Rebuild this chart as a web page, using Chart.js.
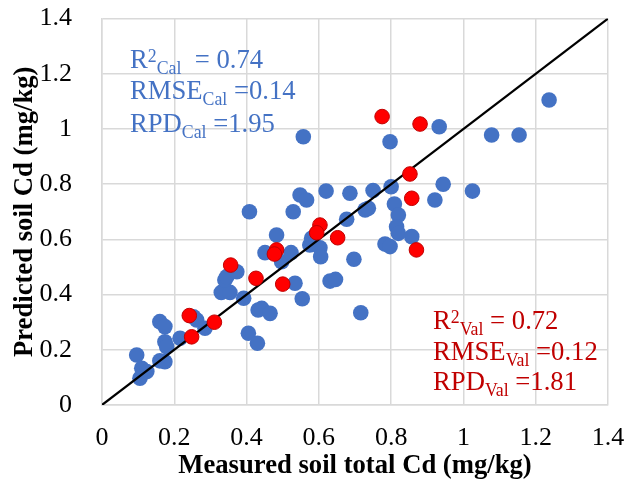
<!DOCTYPE html>
<html>
<head>
<meta charset="utf-8">
<script src="https://cdn.jsdelivr.net/npm/chart.js@4/dist/chart.umd.min.js"></script>
<style>
  html, body { margin: 0; padding: 0; background: #ffffff; }
  canvas { display: block; }
</style>
</head>
<body>
<canvas id="c" width="625" height="482"></canvas>
<script>
// ---- Data ----
const calX = [0.096,0.110,0.124,0.105,0.160,0.174,0.174,0.179,0.160,0.174,0.216,0.262,0.285,0.253,0.330,0.354,0.392,0.405,0.430,0.432,0.442,0.465,0.554,0.340,0.345,0.373,0.408,0.451,0.483,0.497,0.523,0.529,0.534,0.548,0.566,0.580,0.575,0.603,0.605,0.620,0.686,0.750,0.800,0.809,0.820,0.728,0.737,0.677,0.815,0.820,0.857,0.783,0.797,0.697,0.631,0.646,0.716,0.797,0.557,0.933,0.944,0.921,1.237,1.078,1.154,1.025];
const calY = [0.181,0.133,0.121,0.097,0.160,0.157,0.229,0.211,0.302,0.284,0.242,0.308,0.278,0.320,0.408,0.408,0.387,0.260,0.224,0.344,0.350,0.332,0.385,0.453,0.465,0.483,0.700,0.552,0.616,0.519,0.552,0.700,0.441,0.761,0.743,0.604,0.580,0.570,0.537,0.775,0.767,0.777,0.791,0.728,0.688,0.707,0.713,0.673,0.646,0.622,0.610,0.583,0.574,0.528,0.449,0.455,0.334,0.954,0.972,1.008,0.800,0.743,1.105,0.978,0.978,0.775];

const valX = [0.775,0.880,0.852,0.857,0.870,0.652,0.603,0.594,0.483,0.477,0.356,0.426,0.500,0.2415,0.311,0.248];
const valY = [1.045,1.018,0.837,0.749,0.562,0.606,0.652,0.624,0.562,0.547,0.507,0.459,0.438,0.324,0.300,0.247];

const lineX = [0, 1.4];
const lineY = [0, 1.4];

const tickVals = [0, 0.2, 0.4, 0.6, 0.8, 1.0, 1.2, 1.4];
const tickLabels = ['0', '0.2', '0.4', '0.6', '0.8', '1', '1.2', '1.4'];

const xTitle = 'Measured soil total Cd (mg/kg)';
const yTitle = 'Predicted soil Cd (mg/kg)';

// annotation text: segments (main / sup / sub)
const calText = [
  [['R','n'],['2','sup'],['Cal','sub'],['  = 0.74','n']],
  [['RMSE','n'],['Cal','sub'],[' =0.14','n']],
  [['RPD','n'],['Cal','sub'],[' =1.95','n']]
];
const valText = [
  [['R','n'],['2','sup'],['Val','sub'],[' = 0.72','n']],
  [['RMSE','n'],['Val','sub'],[' =0.12','n']],
  [['RPD','n'],['Val','sub'],[' =1.81','n']]
];
const calAnchor = { x: 0.0775, y: [1.22, 1.108, 0.988] };
const valAnchor = { x: 0.916, y: [0.274, 0.163, 0.054] };

// ---- Build ----
const FONT = "'Liberation Serif', 'Times New Roman', serif";
const calPts = calX.map((x, i) => ({ x, y: calY[i] }));
const valPts = valX.map((x, i) => ({ x, y: valY[i] }));
const linePts = lineX.map((x, i) => ({ x, y: lineY[i] }));

const annotationPlugin = {
  id: 'statsText',
  afterDatasetsDraw(chart) {
    const { ctx, scales } = chart;
    const draw = (lines, anchor, color) => {
      ctx.save();
      ctx.fillStyle = color;
      ctx.textBaseline = 'alphabetic';
      ctx.textAlign = 'left';
      lines.forEach((segs, li) => {
        let px = scales.x.getPixelForValue(anchor.x);
        const py = scales.y.getPixelForValue(anchor.y[li]);
        segs.forEach(([t, kind]) => {
          let size = 26.67, dy = 0;
          if (kind === 'sup') { size = 17.8; dy = -6; }
          if (kind === 'sub') { size = 17.8; dy = 5.5; }
          ctx.font = size + 'px ' + FONT;
          ctx.fillText(t, px, py + dy);
          px += ctx.measureText(t).width;
        });
      });
      ctx.restore();
    };
    draw(calText, calAnchor, '#4472C4');
    draw(valText, valAnchor, '#C00000');
  }
};

const gridCol = '#D9D9D9';
const axisCommon = {
  type: 'linear',
  min: 0,
  max: 1.4,
  afterBuildTicks: (s) => { s.ticks = tickVals.map(v => ({ value: v })); },
  grid: { color: gridCol, lineWidth: 1.5, drawTicks: false },
  border: { color: gridCol, width: 1.5 }
};

new Chart(document.getElementById('c'), {
  type: 'scatter',
  data: {
    datasets: [
      { label: 'Validation', data: valPts, backgroundColor: '#FF0000', borderColor: '#C00000', borderWidth: 1, pointRadius: 7.3, order: 0 },
      { label: '1:1', type: 'line', data: linePts, borderColor: '#000000', borderWidth: 2.2, pointRadius: 0, showLine: true, fill: false, order: 1 },
      { label: 'Calibration', data: calPts, backgroundColor: '#4472C4', borderColor: '#4472C4', borderWidth: 0, pointRadius: 7.8, order: 2 }
    ]
  },
  options: {
    responsive: false,
    animation: false,
    layout: { autoPadding: false, padding: { top: 18.6, right: 17, left: 0, bottom: 0 } },
    plugins: { legend: { display: false }, tooltip: { enabled: false } },
    scales: {
      x: Object.assign({}, axisCommon, {
        afterFit: (s) => { s.height = 77; s.paddingLeft = 0; s.paddingRight = 0; },
        ticks: { callback: (v, i) => tickLabels[i], color: '#000', font: { family: FONT, size: 26 }, padding: 18, maxRotation: 0, autoSkip: false },
        title: { display: true, text: xTitle, color: '#000', font: { family: FONT, size: 26.67, weight: 'bold' }, padding: { top: 0, bottom: 0 } }
      }),
      y: Object.assign({}, axisCommon, {
        afterFit: (s) => { s.width = 102; s.paddingTop = 0; s.paddingBottom = 0; },
        ticks: { callback: (v, i) => tickLabels[i], color: '#000', font: { family: FONT, size: 26 }, padding: 30, autoSkip: false },
        title: { display: true, text: yTitle, color: '#000', font: { family: FONT, size: 26.67, weight: 'bold' }, padding: { top: 9, bottom: 0 } }
      })
    }
  },
  plugins: [annotationPlugin]
});
</script>
</body>
</html>
